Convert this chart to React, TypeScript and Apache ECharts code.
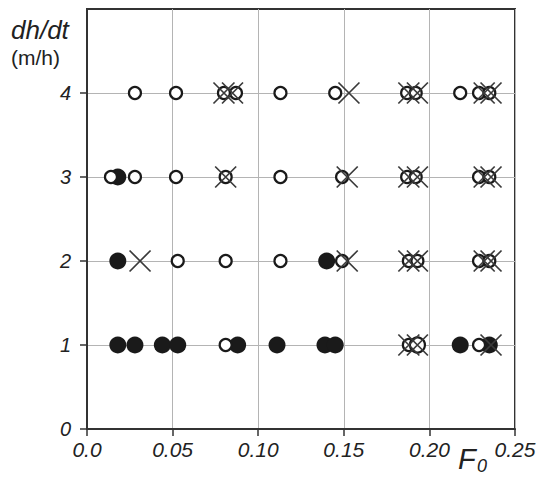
import React, { useEffect, useRef } from "react";
import * as echarts from "echarts";

// [F0, dh/dt]
const openCircles: [number, number][] = [
  [0.028, 4], [0.052, 4], [0.080, 4], [0.087, 4], [0.113, 4], [0.145, 4], [0.187, 4], [0.192, 4], [0.218, 4], [0.229, 4], [0.235, 4],
  [0.014, 3], [0.028, 3], [0.052, 3], [0.081, 3], [0.113, 3], [0.149, 3], [0.187, 3], [0.192, 3], [0.229, 3], [0.235, 3],
  [0.053, 2], [0.081, 2], [0.113, 2], [0.149, 2], [0.188, 2], [0.193, 2], [0.229, 2], [0.235, 2],
  [0.081, 1], [0.188, 1], [0.229, 1],
];
const largeOpenCircles: [number, number][] = [[0.193, 1]];
const filledCircles: [number, number][] = [
  [0.018, 3],
  [0.018, 2], [0.140, 2],
  [0.018, 1], [0.028, 1], [0.044, 1], [0.053, 1], [0.088, 1], [0.111, 1], [0.139, 1], [0.145, 1], [0.218, 1], [0.235, 1],
];
const crosses: [number, number][] = [
  [0.080, 4], [0.085, 4], [0.153, 4], [0.188, 4], [0.193, 4], [0.232, 4], [0.236, 4],
  [0.081, 3], [0.152, 3], [0.188, 3], [0.193, 3], [0.232, 3], [0.236, 3],
  [0.031, 2], [0.152, 2], [0.188, 2], [0.193, 2], [0.232, 2], [0.236, 2],
  [0.188, 1], [0.193, 1], [0.236, 1],
];
const xTickLabels = ["0.0", "0.05", "0.10", "0.15", "0.20", "0.25"];
const yTickValues = [0, 1, 2, 3, 4];

const FONT = "'Liberation Sans', Arial, Helvetica, sans-serif";
const DARK = "#333333";

export default function App() {
  const ref = useRef<HTMLDivElement>(null);
  useEffect(() => {
    document.body.style.margin = "0";
    const chart = echarts.init(ref.current!, null, { renderer: "svg" });
    chart.setOption({
      animation: false,
      backgroundColor: "#ffffff",
      grid: {
        left: 87, right: 21, top: 9, bottom: 48,
        outerBoundsMode: "none",
        show: true, borderColor: DARK, borderWidth: 2,
      },
      xAxis: {
        type: "value", min: 0, max: 0.25, interval: 0.05,
        axisLine: { show: true, lineStyle: { color: DARK, width: 2 } },
        axisTick: { show: true, length: 7, inside: false, lineStyle: { color: DARK, width: 1.5 } },
        splitLine: { show: true, lineStyle: { color: "#b4b4b4", width: 1 } },
        axisLabel: {
          margin: 10, color: "#222", fontSize: 21, fontStyle: "italic", fontFamily: FONT,
          formatter: (v: number) => xTickLabels[Math.round(v / 0.05)],
        },
      },
      yAxis: {
        type: "value", min: 0, max: 5, interval: 1,
        axisLine: { show: true, lineStyle: { color: DARK, width: 2 } },
        axisTick: { show: true, length: 7, inside: false, customValues: yTickValues, lineStyle: { color: DARK, width: 1.5 } },
        splitLine: { show: true, lineStyle: { color: "#b4b4b4", width: 1 } },
        axisLabel: {
          margin: 16, color: "#222", fontSize: 20, fontStyle: "italic", fontFamily: FONT,
          customValues: yTickValues,
        },
      },
      graphic: [
        { type: "text", left: 11, top: 17, style: { text: "dh/dt", fontSize: 26, fontStyle: "italic", fontFamily: FONT, fill: "#222" } },
        { type: "text", left: 11, top: 47, style: { text: "(m/h)", fontSize: 21, fontFamily: FONT, fill: "#222" } },
        { type: "text", left: 458, top: 444, style: { text: "F", fontSize: 29, fontStyle: "italic", fontFamily: FONT, fill: "#222" } },
        { type: "text", left: 477, top: 457, style: { text: "0", fontSize: 18, fontStyle: "italic", fontFamily: FONT, fill: "#222" } },
      ],
      series: [
        {
          type: "scatter", name: "filled", data: filledCircles, symbol: "circle", symbolSize: 17, z: 2,
          itemStyle: { color: "#1a1a1a", borderColor: "#1a1a1a", borderWidth: 0, opacity: 1 },
        },
        {
          type: "scatter", name: "open", data: openCircles, symbol: "circle", symbolSize: 12, z: 3,
          itemStyle: { color: "#ffffff", borderColor: "#1a1a1a", borderWidth: 2.2, opacity: 1 },
        },
        {
          type: "scatter", name: "openLarge", data: largeOpenCircles, symbol: "circle", symbolSize: 15, z: 3,
          itemStyle: { color: "#ffffff", borderColor: "#1a1a1a", borderWidth: 2.2, opacity: 1 },
        },
        {
          type: "scatter", name: "cross", data: crosses, symbol: "path://M0,0L10,10M10,0L0,10", symbolSize: 21, z: 4,
          itemStyle: { color: "none", borderColor: "#3a3a3a", borderWidth: 1.7, opacity: 1 },
        },
      ],
    });
    return () => chart.dispose();
  }, []);
  return <div ref={ref} style={{ width: 536, height: 477 }} />;
}
